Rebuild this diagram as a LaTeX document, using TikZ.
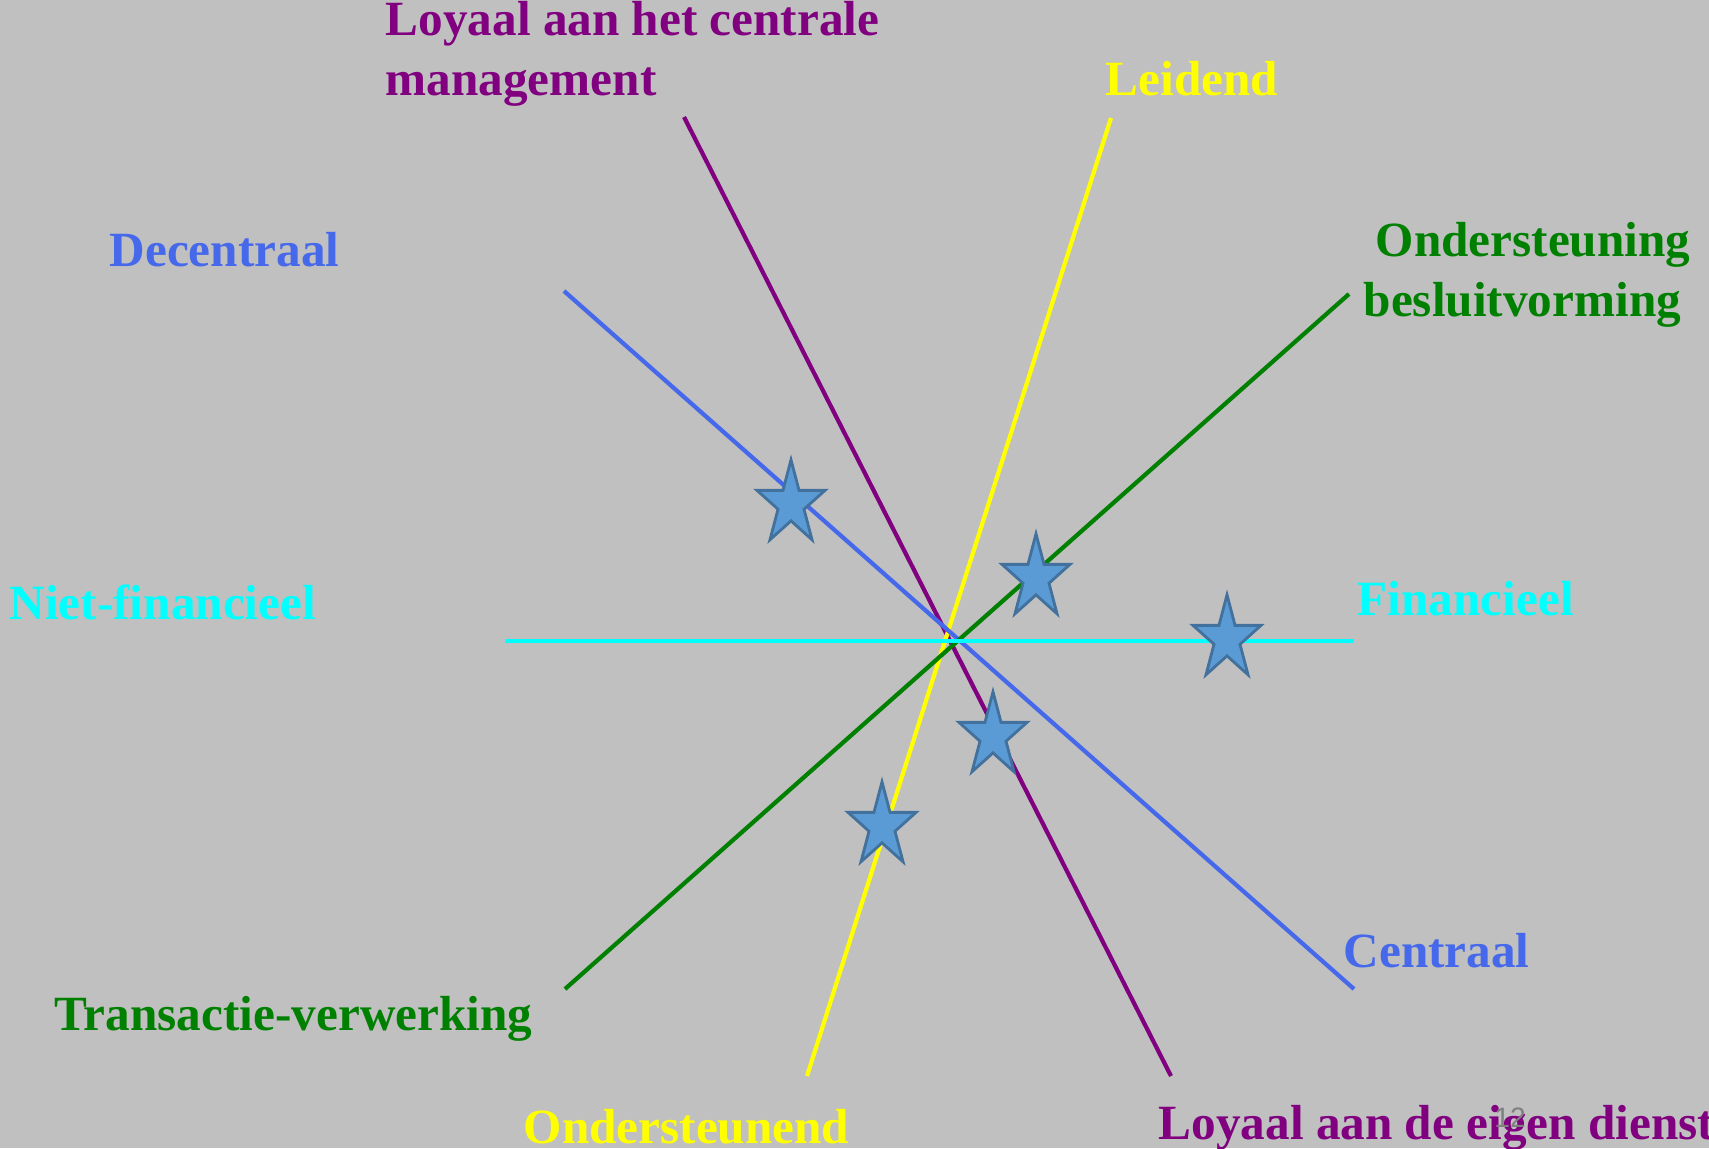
\documentclass[tikz,border=0pt]{standalone}
\usepackage{fontspec}
\setmainfont{Liberation Serif}
\setsansfont{Liberation Sans}
\usepackage{tikz}
\usetikzlibrary{shapes.geometric, positioning}
\definecolor{slidegray}{RGB}{192, 192, 192}
\definecolor{axispurple}{RGB}{128, 0, 128}
\definecolor{axisyellow}{RGB}{255, 255, 0}
\definecolor{axisblue}{RGB}{70, 105, 235}
\definecolor{axisgreen}{RGB}{0, 128, 0}
\definecolor{axiscyan}{RGB}{0, 255, 255}
\definecolor{starfill}{RGB}{91, 155, 213}
\definecolor{starline}{RGB}{65, 113, 156}

\begin{document}
\begin{tikzpicture}[
        x=0.01cm, y=-0.01cm,
        label/.style={inner sep=0pt, font=\bfseries\fontsize{14}{17}\selectfont},
        axis/.style={line width=1.2pt},
        marker/.style={star, star points=5, star point ratio=2.618, minimum size=0.715cm, inner sep=0pt,
            fill=starfill, draw=starline, line width=0.8pt, transform shape, yscale=1.235}
    ]

        % Background
        \fill[slidegray] (0,0) rectangle (1709,1148);
        \useasboundingbox (0,0) rectangle (1709,1148);

        % Axis ends
        \coordinate (centraletop) at (684,117);
        \coordinate (eigenbottom) at (1171,1076);
        \coordinate (leidendtop) at (1111,118);
        \coordinate (ondersteunendbottom) at (807,1076);
        \coordinate (decentraaltop) at (564,291);
        \coordinate (centraalbottom) at (1354,989);
        \coordinate (besluittop) at (1349,294);
        \coordinate (transactiebottom) at (565,989);
        \coordinate (nietfinleft) at (505,641);
        \coordinate (finright) at (1354,641);

        % Axes
        \draw[axis, axispurple] (centraletop) -- (eigenbottom);
        \draw[axis, axisyellow] (leidendtop) -- (ondersteunendbottom);
        \draw[axis, axisblue] (decentraaltop) -- (centraalbottom);
        \draw[axis, axisgreen] (besluittop) -- (transactiebottom);
        \draw[axis, axiscyan] (nietfinleft) -- (finright);

        % Labels
        \node[label, axispurple, anchor=west, align=left] (loyaalcentraal) at (385,54) {Loyaal aan het centrale\\management};
        \node[label, axisyellow, anchor=west] (leidend) at (1105,79) {Leidend};
        \node[label, axisblue, anchor=west] (decentraal) at (109,250) {Decentraal};
        \node[label, axisgreen, anchor=west, align=left] (ondersteuning) at (1363,275) {\hspace{0.12cm}Ondersteuning\\besluitvorming};
        \node[label, axiscyan, anchor=west] (nietfin) at (9,602) {Niet-financieel};
        \node[label, axiscyan, anchor=west] (financieel) at (1357,599) {Financieel};
        \node[label, axisblue, anchor=west] (centraal) at (1343,951) {Centraal};
        \node[label, axisgreen, anchor=west] (transactie) at (54,1019) {Transactie-verwerking};
        \node[label, axisyellow, anchor=west] (ondersteunend) at (523,1127) {Ondersteunend};
        \node[label, axispurple, anchor=west] (loyaaleigen) at (1158,1128) {Loyaal aan de eigen dienst};
        \node[inner sep=0pt, font=\sffamily\fontsize{8}{8}\selectfont, text=gray] (pagenr) at (1510,1118) {12};

        % Stars
        \node[marker] (stara) at (791,504) {};
        \node[marker] (starb) at (1036,578) {};
        \node[marker] (starc) at (1227,639) {};
        \node[marker] (stard) at (993,736) {};
        \node[marker] (stare) at (882,826) {};
    \end{tikzpicture}
\end{document}
